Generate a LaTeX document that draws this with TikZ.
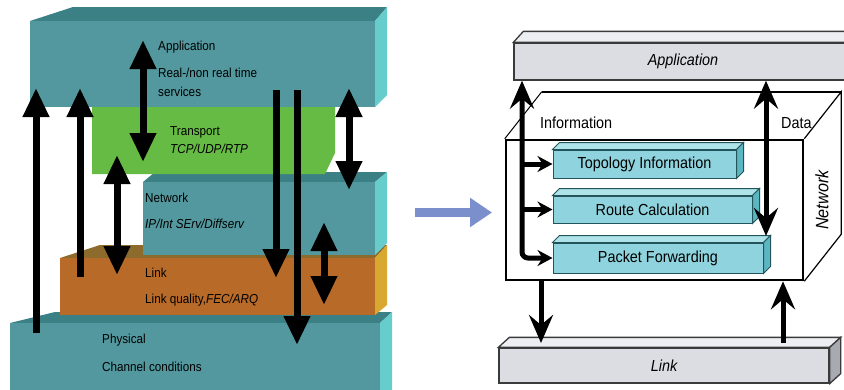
\documentclass[tikz,border=0pt]{standalone}
\usepackage{fontspec}
\setmainfont{Liberation Sans}
\newfontfamily\lfam[FakeStretch=0.9]{Liberation Sans}
\newcommand\lfont{\lfam\fontsize{13}{15}\selectfont}
\newcommand\rfont{\lfam\fontsize{16}{18}\selectfont}
\newcommand\nfont{\lfam\fontsize{18}{20}\selectfont}
\usetikzlibrary{arrows.meta}
\definecolor{tealfront}{HTML}{52989E}
\definecolor{tealtop}{HTML}{3B8084}
\definecolor{tealside}{HTML}{66CCCC}
\definecolor{grn}{HTML}{66BB44}
\definecolor{linkfront}{HTML}{B86A28}
\definecolor{linktop}{HTML}{8C6B2C}
\definecolor{linkside}{HTML}{D8A830}
\definecolor{blarrow}{HTML}{7B8FCC}
\definecolor{cyfront}{HTML}{8ED3DD}
\definecolor{cytop}{HTML}{AEE3EA}
\definecolor{cyside}{HTML}{5CB6C2}
\definecolor{cyborder}{HTML}{22545A}
\definecolor{grfront}{HTML}{DCDDE3}
\definecolor{grtop}{HTML}{EDEEF2}
\definecolor{grside}{HTML}{A8A9B1}
\definecolor{grline}{HTML}{3A3A3A}
\newcommand\boxthreed[6]{%
  \filldraw[fill=#4,#6] (#1.north west) -- ([shift={(#2,#3)}]#1.north west) -- ([shift={(#2,#3)}]#1.north east) -- (#1.north east) -- cycle;
  \filldraw[fill=#5,#6] (#1.north east) -- ([shift={(#2,#3)}]#1.north east) -- ([shift={(#2,#3)}]#1.south east) -- (#1.south east) -- cycle;
}
\begin{document}
\begin{tikzpicture}[x=1pt,y=-1pt,
  lt/.style={anchor=base west, inner sep=0pt, font=\lfont},
  thickarrow/.style={line width=7pt, -{Triangle[length=29pt,width=25pt]}},
  thickdbl/.style={line width=7pt, {Triangle[length=29pt,width=25pt]}-{Triangle[length=29pt,width=25pt]}},
  cyb/.style={draw=cyborder, fill=cyfront, line width=1pt, inner sep=0pt, font=\rfont},
  grb/.style={draw=grline, fill=grfront, line width=1.3pt, inner sep=0pt, font=\rfont\itshape},
  rline/.style={line width=5pt},
  bighead/.tip={Stealth[length=28pt,width=24pt,inset=10pt]},
  smallhead/.tip={Stealth[length=15pt,width=16pt,inset=5pt]},
  rt/.style={font=\rfont, inner sep=0pt}
]
\useasboundingbox (0,0) rectangle (844,389);
\clip (0,0) rectangle (844,389);
\fill[white] (0,0) rectangle (844,389);

% ---------- left stack ----------
% Physical
\fill[tealtop] (10,323) -- (55,312) -- (392,312) -- (380,323) -- cycle;
\fill[tealfront] (10,323) rectangle (380,395);
\fill[tealside] (380,323) -- (392,312) -- (392,395) -- (380,395) -- cycle;
% Link
\fill[linktop] (60,258) -- (100,245) -- (387,245) -- (375,258) -- cycle;
\fill[linkfront] (60,258) rectangle (375,315);
\fill[linkside] (375,258) -- (387,245) -- (387,305) -- (375,315) -- cycle;
% Network
\fill[tealtop] (143,182) -- (155,172) -- (387,172) -- (375,182) -- cycle;
\fill[tealfront] (143,182) rectangle (375,255);
\fill[tealside] (375,182) -- (387,172) -- (387,243) -- (375,255) -- cycle;
% Transport
\fill[grn] (92,107) -- (335,107) -- (335,153) -- (325,174) -- (92,174) -- cycle;
% Application
\fill[tealtop] (30,21) -- (73,7) -- (387,7) -- (375,21) -- cycle;
\fill[tealfront] (30,21) rectangle (375,107);
\fill[tealside] (375,21) -- (387,7) -- (387,95) -- (375,107) -- cycle;

% texts
\node[lt] (lapp) at (158,50) {Application};
\node[lt] (lreal) at (158,77) {Real-/non real time};
\node[lt] (lserv) at (158,96) {services};
\node[lt] (ltrans) at (170,135) {Transport};
\node[lt] (ltcp) at (170,153) {\itshape TCP/UDP/RTP};
\node[lt] (lnet) at (145,202) {Network};
\node[lt] (lip) at (145,228) {\itshape IP/Int SErv/Diffserv};
\node[lt] (llink) at (145,277) {Link};
\node[lt] (llq) at (145,303) {Link quality,\itshape FEC/ARQ};
\node[lt] (lphy) at (102,343) {Physical};
\node[lt] (lch) at (102,371) {Channel conditions};

% arrows
\coordinate (a1s) at (36,333); \coordinate (a1e) at (36,88);
\coordinate (a2s) at (80,277); \coordinate (a2e) at (80,88);
\coordinate (a3s) at (117,155); \coordinate (a3e) at (117,275);
\coordinate (a4s) at (143,40); \coordinate (a4e) at (143,162);
\coordinate (a5s) at (276,90); \coordinate (a5e) at (276,278);
\coordinate (a6s) at (297,90); \coordinate (a6e) at (297,345);
\coordinate (a7s) at (349,88); \coordinate (a7e) at (349,190);
\coordinate (a8s) at (324,222); \coordinate (a8e) at (324,305);
\draw[thickarrow] (a1s) -- (a1e);
\draw[thickarrow] (a2s) -- (a2e);
\draw[thickdbl] (a3s) -- (a3e);
\draw[thickdbl] (a4s) -- (a4e);
\draw[thickarrow] (a5s) -- (a5e);
\draw[thickarrow] (a6s) -- (a6e);
\draw[thickdbl] (a7s) -- (a7e);
\draw[thickdbl] (a8s) -- (a8e);

% ---------- middle arrow ----------
\coordinate (ba1) at (415,212.5); \coordinate (ba2) at (492,212.5);
\draw[blarrow, line width=9pt, -{Triangle[length=22pt,width=28pt]}] (ba1) -- (ba2);

% ---------- right diagram ----------
\node[grb, minimum width=338pt, minimum height=37pt] (rapp) at (683,61.5) {Application};
\boxthreed{rapp}{10}{-11}{grtop}{grside}{draw=grline, line width=1.3pt}
\node[grb, minimum width=330pt, minimum height=35pt] (rlink) at (664,365.5) {Link};
\boxthreed{rlink}{11}{-10}{grtop}{grside}{draw=grline, line width=1.3pt}

\node[draw, line width=2.5pt, minimum width=297pt, minimum height=140pt, inner sep=0pt] (netbox) at (654.5,210) {};
\draw[line width=2.5pt] ([shift={(37,-47)}]netbox.north west) -- ([shift={(37,-47)}]netbox.north east);
\draw[line width=1pt] (netbox.north west) -- ([shift={(37,-47)}]netbox.north west);
\draw[line width=1.2pt] (netbox.north east) -- ([shift={(37,-47)}]netbox.north east) -- ([shift={(37,-47)}]netbox.south east) -- (netbox.south east);

\node[rt, anchor=west] (info) at (540,123) {Information};
\node[rt, anchor=west] (data) at (781,123) {Data};
\node[rt, font=\nfont\itshape, rotate=90] (netlbl) at (822,200) {Network};

\node[cyb, minimum width=183pt, minimum height=28pt] (topo) at (644.5,164) {Topology Information};
\boxthreed{topo}{7}{-7}{cytop}{cyside}{draw=cyborder, line width=1pt}
\node[cyb, minimum width=199pt, minimum height=27pt] (route) at (652.5,209.5) {Route Calculation};
\boxthreed{route}{7}{-7}{cytop}{cyside}{draw=cyborder, line width=1pt}
\node[cyb, minimum width=210pt, minimum height=30pt] (pkt) at (658,258) {Packet Forwarding};
\boxthreed{pkt}{7}{-7}{cytop}{cyside}{draw=cyborder, line width=1pt}

\coordinate (busc) at (522,258);
\draw[rline, rounded corners=6pt, {bighead}-{smallhead}] (rapp.south -| busc) -- (busc) -- (pkt.west);
\draw[rline, -{smallhead}] (topo.west -| busc) -- (topo.west);
\draw[rline, -{smallhead}] (route.west -| busc) -- (route.west);
\coordinate (dat) at (766,236);
\draw[rline, {bighead}-{bighead}] (rapp.south -| dat) -- (dat);
\coordinate (dnx) at (541,343);
\draw[rline, -{bighead}] (netbox.south -| dnx) -- (dnx);
\coordinate (upx) at (783,343);
\draw[rline, -{bighead}] (upx) -- (netbox.south -| upx);
\end{tikzpicture}
\end{document}
